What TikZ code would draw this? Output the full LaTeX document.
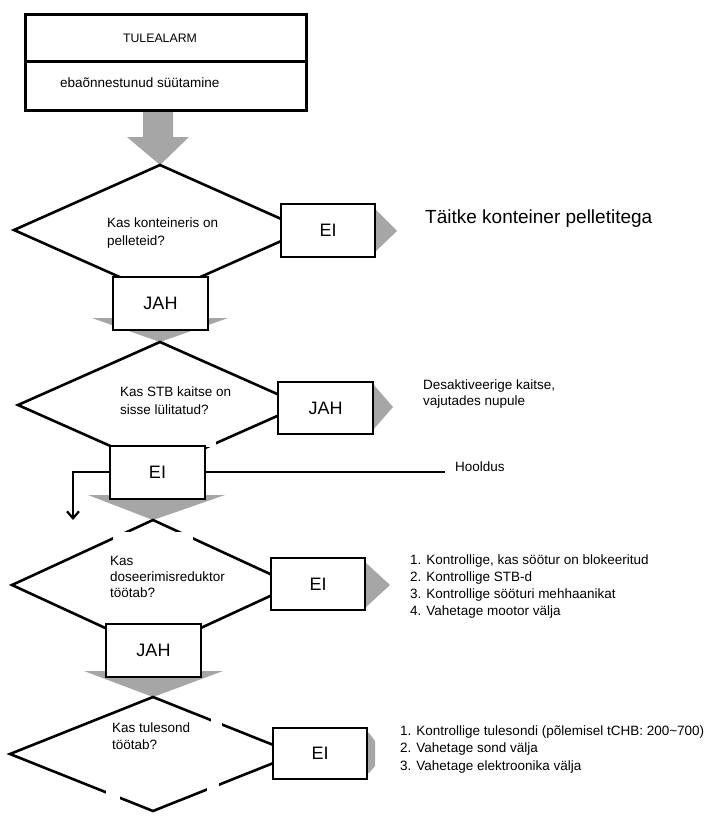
\documentclass[tikz,border=0pt]{standalone}
\usepackage{fontspec}
\setmainfont{Liberation Sans}
\usetikzlibrary{shapes.geometric,arrows.meta}
\definecolor{arrgray}{RGB}{166,166,166}
\begin{document}
\begin{tikzpicture}[x=1pt,y=-1pt,
  dia/.style={draw, diamond, line width=2.6pt, inner sep=0pt, outer sep=0pt},
  ybox/.style={draw, fill=white, line width=2pt, inner sep=0pt, minimum width=94pt, minimum height=52pt, font=\fontsize{18}{20}\selectfont},
  t/.style={inner sep=0pt, anchor=base west, font=\fontsize{13.5}{16}\selectfont},
  garrow/.style={fill=arrgray}
]
\useasboundingbox (0,0) rectangle (717,816);

% gray arrows (connectors)
\fill[garrow] (143,110) -- (173,110) -- (173,137) -- (189,137) -- (160,165) -- (127,137) -- (143,137) -- cycle;
\fill[garrow] (92,318) -- (228,318) -- (160,342) -- cycle;
\fill[garrow] (88,495) -- (225,495) -- (153,520) -- cycle;
\fill[garrow] (84,671) -- (223,671) -- (153,697) -- cycle;
\fill[garrow] (368,209) -- (375,209) -- (397,231) -- (375,252) -- (368,252) -- cycle;
\fill[garrow] (366,384) -- (373,384) -- (393,407) -- (373,430) -- (366,430) -- cycle;
\fill[garrow] (358,562) -- (365,562) -- (390,585) -- (365,608) -- (358,608) -- cycle;
\fill[garrow] (362,732) -- (369,733) -- (375,741) -- (375,766) -- (369,773) -- (362,774) -- cycle;

% diamonds
\node[dia, minimum width=292pt, minimum height=130pt] (d1) at (160,230) {};
\node[dia, minimum width=284pt, minimum height=126pt] (d2) at (160,405) {};
\node[dia, minimum width=282pt, minimum height=130pt] (d3) at (153,585) {};
\node[dia, minimum width=286pt, minimum height=114pt] (d4) at (153,754) {};

% gaps in lines
\fill[white] (113,532) rectangle (193,600);
\fill[white] (206,439) rectangle (216,447);
\fill[white] (211,715) rectangle (222,726);
\fill[white] (207,781) rectangle (219,792);
\fill[white] (106,788) rectangle (120,802);

% top box
\node[draw, line width=3pt, inner sep=0pt, minimum width=281pt, minimum height=95pt] (top) at (165.5,62.5) {};
\draw[line width=3pt] (top.west |- 0,62) -- (top.east |- 0,62);
\node[inner sep=0pt, anchor=base, font=\fontsize{12.3}{14}\selectfont] (ttl) at (160,42.5) {TULEALARM};
\node[t] (sub) at (60,88) {ebaõnnestunud süütamine};

% answer boxes
\node[ybox, minimum height=53pt] (ei1) at (328,230.5) {EI};
\node[ybox, minimum width=95pt, minimum height=53pt] (jah1) at (160.5,303.5) {JAH};
\node[ybox, minimum width=95pt] (jah2) at (325.5,408) {JAH};
\node[ybox, minimum width=95pt, minimum height=53pt] (ei2) at (157.5,472.5) {EI};
\node[ybox] (ei3) at (318,584) {EI};
\node[ybox, minimum width=95pt, minimum height=53pt] (jah3) at (153.5,650.5) {JAH};
\node[ybox, minimum height=51pt] (ei4) at (320,753.5) {EI};

% questions
\node[t] (q1a) at (107,227) {Kas konteineris on};
\node[t] (q1b) at (107,245) {pelleteid?};
\node[t] (q2a) at (120,396) {Kas STB kaitse on};
\node[t] (q2b) at (120,414) {sisse lülitatud?};
\node[t] (q3a) at (110,565) {Kas};
\node[t] (q3b) at (110,581) {doseerimisreduktor};
\node[t] (q3c) at (110,597) {töötab?};
\node[t] (q4a) at (112,732) {Kas tulesond};
\node[t] (q4b) at (112,749) {töötab?};

% actions
\node[inner sep=0pt, anchor=base west, font=\fontsize{19}{22}\selectfont] (a1) at (425,223) {Täitke konteiner pelletitega};
\node[t] (a2a) at (423,389) {Desaktiveerige kaitse,};
\node[t] (a2b) at (423,405) {vajutades nupule};
\node[t, anchor=west, inner xsep=0pt] (hool) at (455,467) {Hooldus};
\node[t] (a3a) at (410,564) {1. Kontrollige, kas söötur on blokeeritud};
\node[t] (a3b) at (410,581) {2. Kontrollige STB-d};
\node[t] (a3c) at (410,598) {3. Kontrollige sööturi mehhaanikat};
\node[t] (a3d) at (410,615) {4. Vahetage mootor välja};
\node[t] (a4a) at (400,735) {1. Kontrollige tulesondi (põlemisel tCHB: 200\textasciitilde 700)};
\node[t] (a4b) at (400,752) {2. Vahetage sond välja};
\node[t] (a4c) at (400,770) {3. Vahetage elektroonika välja};

% lines
\coordinate (hend) at (445,472);
\coordinate (aend) at (73,520);
\draw[line width=2.6pt] (ei2.east |- hend) -- (hend);
\draw[line width=2.4pt, -{Straight Barb[length=7pt,width=12pt,line width=2.2pt]}] (ei2.west |- hend) -| (aend);
\end{tikzpicture}
\end{document}
